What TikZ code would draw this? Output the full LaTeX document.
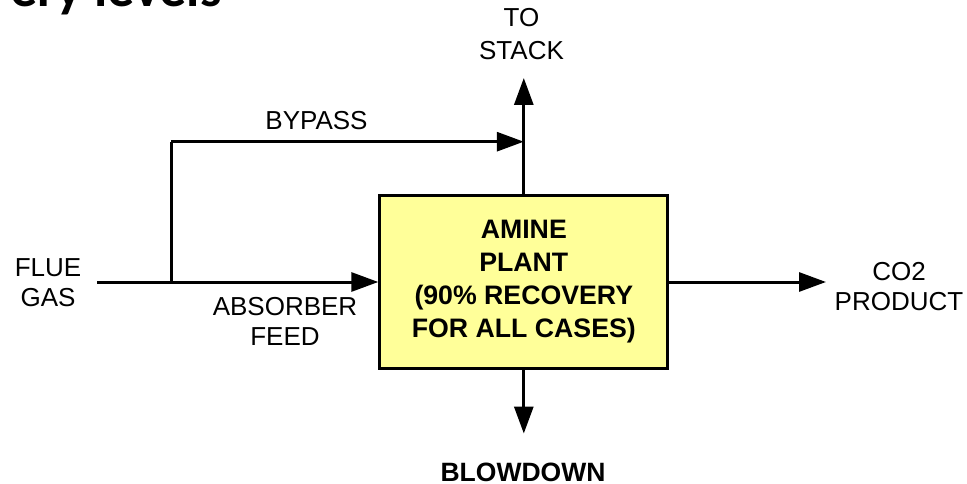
\documentclass[tikz,border=0pt]{standalone}
\usepackage{fontspec}
\setmainfont{Liberation Sans}
\newfontfamily\titlefont{Carlito}
\usetikzlibrary{arrows.meta}
\definecolor{plantfill}{HTML}{FFFF99}
\begin{document}
\begin{tikzpicture}[x=1pt,y=-1pt,
  flow/.style={line width=3pt},
  arr/.style={flow,-{Triangle[length=27pt,width=19pt]}},
  lbl/.style={font=\fontsize{26}{30}\selectfont, align=center, inner sep=0pt},
  blbl/.style={font=\bfseries\fontsize{26.5}{33}\selectfont, align=center, inner sep=0pt},
  plantbox/.style={draw, line width=3pt, fill=plantfill, minimum width=288pt,
    minimum height=172.6pt, align=center, inner sep=0pt,
    font=\bfseries\fontsize{26.7}{33}\selectfont},
  titletext/.style={font=\titlefont\bfseries\fontsize{54}{60}\selectfont, inner sep=0pt}
]
\useasboundingbox (0,0) rectangle (967,484);
\clip (0,0) rectangle (967,484);

% cropped title
\node[titletext, anchor=base west] (title) at (10,6.5) {ery levels};

% plant
\node[plantbox] (plant) at (523.8,282) {AMINE\\PLANT\\(90\% RECOVERY\\FOR ALL CASES)};

% free ends
\coordinate (fluestart) at (97,282);
\coordinate (junction) at (171,282);
\coordinate (bypasscorner) at (171,141.7);
\coordinate (stacktip) at (523.8,78);
\coordinate (bypasstip) at (523.8,141.7);
\coordinate (co2tip) at (826,282);
\coordinate (blowtip) at (523.8,433.5);

% connectors
\draw[arr] (fluestart) -- (plant.west);
\draw[flow] (junction) -- (bypasscorner);
\draw[arr] (bypasscorner) -- (bypasstip);
\draw[arr] (plant.north) -- (stacktip);
\draw[arr] (plant.east) -- (co2tip);
\draw[arr] (plant.south) -- (blowtip);

% labels
\node[lbl, font=\fontsize{26}{33}\selectfont] (stack) at (521.5,34.2) {TO\\STACK};
\node[lbl] (bypass) at (316.5,121) {BYPASS};
\node[lbl] (flue) at (48,282.5) {FLUE\\GAS};
\node[lbl] (absorber) at (285,321.7) {ABSORBER\\FEED};
\node[lbl] (co2) at (899,287) {CO2\\PRODUCT};
\node[blbl] (blowdown) at (523,472) {BLOWDOWN};
\end{tikzpicture}
\end{document}
